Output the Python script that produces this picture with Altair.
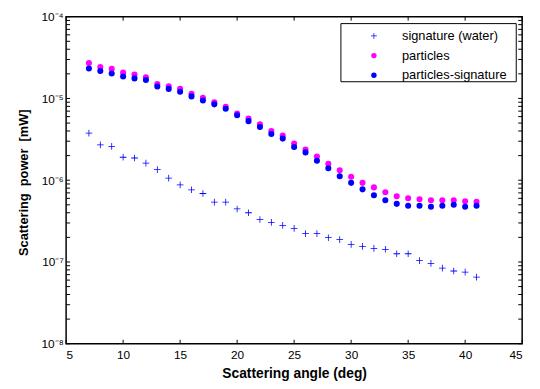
import altair as alt
import pandas as pd

angle = list(range(7, 42))
signature = [3.76e-6, 2.71e-6, 2.59e-6, 1.91e-6, 1.87e-6, 1.62e-6, 1.35e-6, 1.06e-6,
             8.78e-7, 7.64e-7, 6.88e-7, 5.39e-7, 5.39e-7, 4.45e-7, 4.00e-7, 3.31e-7,
             3.05e-7, 2.81e-7, 2.58e-7, 2.22e-7, 2.22e-7, 1.98e-7, 1.88e-7, 1.64e-7,
             1.55e-7, 1.47e-7, 1.43e-7, 1.26e-7, 1.26e-7, 1.04e-7, 9.59e-8, 8.40e-8,
             7.75e-8, 7.51e-8, 6.54e-8]
particles = [2.715e-5, 2.43e-5, 2.30e-5, 2.07e-5, 1.96e-5, 1.81e-5, 1.50e-5, 1.41e-5,
             1.31e-5, 1.14e-5, 1.02e-5, 8.95e-6, 7.90e-6, 6.54e-6, 5.69e-6, 4.82e-6,
             4.00e-6, 3.51e-6, 2.81e-6, 2.38e-6, 1.95e-6, 1.59e-6, 1.32e-6, 1.10e-6,
             9.28e-7, 8.17e-7, 7.11e-7, 6.36e-7, 6.02e-7, 5.85e-7, 5.69e-7, 5.69e-7,
             5.69e-7, 5.54e-7, 5.43e-7]
particles_sig = [2.32e-5, 2.17e-5, 2.02e-5, 1.86e-5, 1.76e-5, 1.68e-5, 1.40e-5, 1.31e-5,
                 1.21e-5, 1.06e-5, 9.46e-6, 8.47e-6, 7.47e-6, 6.24e-6, 5.28e-6, 4.47e-6,
                 3.68e-6, 3.23e-6, 2.55e-6, 2.19e-6, 1.73e-6, 1.40e-6, 1.12e-6, 9.28e-7,
                 7.73e-7, 6.54e-7, 5.69e-7, 5.14e-7, 4.86e-7, 4.86e-7, 4.73e-7, 4.86e-7,
                 5.00e-7, 4.73e-7, 4.86e-7]

series_names = ["signature (water)", "particles", "particles-signature"]
series_colors = ["#0000FF", "#FF00FF", "#0000FF"]
cross = "M-1.1,-0.13H-0.13V-1.1H0.13V-0.13H1.1V0.13H0.13V1.1H-0.13V0.13H-1.1Z"
series_shapes = [cross, "circle", "circle"]

x_ticks = [5, 10, 15, 20, 25, 30, 35, 40, 45]
y_major = [1e-8, 1e-7, 1e-6, 1e-5, 1e-4]
y_ticks = [m * 10.0 ** e for e in range(-8, -4) for m in range(1, 10)] + [1e-4]

rows = []
for name, vals in zip(series_names, [signature, particles, particles_sig]):
    for a, v in zip(angle, vals):
        rows.append({"angle": a, "power": v, "series": name})
df = pd.DataFrame(rows)

FONT = "Liberation Sans"
xscale = alt.Scale(domain=[5, 45], nice=False, zero=False)
yscale = alt.Scale(type="log", domain=[1e-8, 1e-4], nice=False)

label_expr = ("'10' + (datum.value < 3e-8 ? '⁻⁸' : datum.value < 3e-7 ? '⁻⁷' : "
              "datum.value < 3e-6 ? '⁻⁶' : datum.value < 3e-5 ? '⁻⁵' : '⁻⁴')")

xaxis = alt.Axis(values=x_ticks, ticks=False, tickSize=0, domain=False, grid=False,
                 labelPadding=6, labelFontSize=12, labelFont=FONT, labelColor="black",
                 title="Scattering angle (deg)", titleFont=FONT, titleFontSize=14,
                 titleFontWeight="bold", titleColor="black", titleY=30,
                 titleBaseline="middle")
yaxis = alt.Axis(values=y_major, ticks=False, tickSize=0, domain=False, grid=False,
                 labelExpr=label_expr, labelPadding=3, labelFontSize=12,
                 labelFont=FONT, labelColor="black",
                 title="Scattering\u00a0\u00a0power\u00a0\u00a0[mW]", titleFont=FONT,
                 titleFontSize=13, titleFontWeight="bold", titleColor="black",
                 titleX=-43, titleY=168, titleBaseline="middle")

legend_box = alt.Chart(pd.DataFrame({"a": [0]})).mark_rect(
    fill="white", stroke="black", strokeWidth=1
).encode(x=alt.value(279), x2=alt.value(457), y=alt.value(7), y2=alt.value(66))

points = alt.Chart(df).mark_point(filled=True, size=38, opacity=1).encode(
    x=alt.X("angle:Q", scale=xscale, axis=xaxis),
    y=alt.Y("power:Q", scale=yscale, axis=yaxis),
    color=alt.Color("series:N", scale=alt.Scale(domain=series_names, range=series_colors),
                    legend=alt.Legend(orient="none", legendX=306, legendY=13, title=None,
                                      labelFont=FONT, labelFontSize=13, labelColor="black",
                                      padding=0, symbolSize=30, labelOffset=22, rowPadding=6,
                                      symbolOpacity=1)),
    shape=alt.Shape("series:N", scale=alt.Scale(domain=series_names, range=series_shapes)),
)

xt_df = pd.DataFrame({"angle": x_ticks})
yt_df = pd.DataFrame({"power": y_ticks})

xt_bottom = alt.Chart(xt_df).mark_rule(color="black", strokeWidth=1).encode(
    x=alt.X("angle:Q", scale=xscale, axis=xaxis), y=alt.value(332), y2=alt.value(328))
xt_top = alt.Chart(xt_df).mark_rule(color="black", strokeWidth=1).encode(
    x=alt.X("angle:Q", scale=xscale, axis=xaxis), y=alt.value(0), y2=alt.value(4))
yt_left = alt.Chart(yt_df).mark_rule(color="black", strokeWidth=1).encode(
    y=alt.Y("power:Q", scale=yscale, axis=yaxis), x=alt.value(0), x2=alt.value(4))
yt_right = alt.Chart(yt_df).mark_rule(color="black", strokeWidth=1).encode(
    y=alt.Y("power:Q", scale=yscale, axis=yaxis), x=alt.value(463), x2=alt.value(459))

chart = alt.layer(legend_box, points, xt_bottom, xt_top, yt_left, yt_right).properties(
    width=463, height=332,
    background="white",
    autosize=alt.AutoSizeParams(type="none"),
    padding={"left": 59, "top": 6, "right": 10, "bottom": 35},
).configure_view(stroke="black", strokeWidth=1.5)

chart.save("out.html", embed_options={"renderer": "svg", "actions": False})
